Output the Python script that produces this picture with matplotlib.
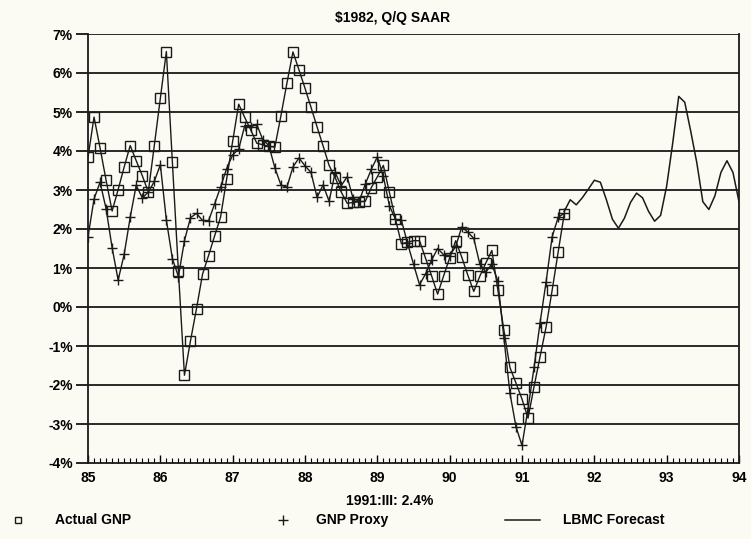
import numpy as np
import matplotlib
matplotlib.use("Agg")
import matplotlib.pyplot as plt
from matplotlib.lines import Line2D
from matplotlib.ticker import MultipleLocator, FuncFormatter

# monthly values, first point = Jan 1985
actualGnp = [
    3.84, 4.87, 4.08, 3.25, 2.46, 3.01, 3.59, 4.14, 3.75, 3.37, 2.95, 4.14,
    5.35, 6.55, 3.71, 0.92, -1.75, -0.87, -0.04, 0.84, 1.32, 1.82, 2.31, 3.28,
    4.25, 5.20, 4.86, 4.54, 4.20, 4.16, 4.12, 4.10, 4.90, 5.74, 6.54, 6.08,
    5.61, 5.12, 4.62, 4.13, 3.63, 3.32, 2.95, 2.66, 2.68, 2.70, 2.71, 3.06,
    3.34, 3.63, 2.94, 2.26, 1.62, 1.66, 1.70, 1.70, 1.25, 0.80, 0.33, 0.80,
    1.26, 1.70, 1.28, 0.82, 0.40, 0.79, 1.13, 1.45, 0.43, -0.60, -1.55, -1.95,
    -2.36, -2.85, -2.04, -1.27, -0.51, 0.43, 1.41, 2.38,
]
gnpProxy = [
    1.80, 2.77, 3.20, 2.52, 1.52, 0.69, 1.35, 2.30, 3.12, 2.80, 2.94, 3.22,
    3.65, 2.23, 1.24, 0.78, 1.70, 2.29, 2.40, 2.22, 2.21, 2.64, 3.08, 3.55,
    3.90, 4.05, 4.65, 4.62, 4.68, 4.29, 4.14, 3.57, 3.13, 3.07, 3.59, 3.82,
    3.62, 3.45, 2.81, 3.13, 2.71, 3.45, 3.11, 3.34, 2.77, 2.72, 3.15, 3.53,
    3.85, 3.35, 2.60, 2.25, 2.22, 1.64, 1.10, 0.57, 0.85, 1.20, 1.50, 1.34,
    1.32, 1.55, 2.05, 1.92, 1.76, 1.10, 0.90, 1.10, 0.66, -0.80, -2.21, -3.07,
    -3.55, -2.60, -1.55, -0.40, 0.65, 1.80, 2.30, 2.40,
]
# forecast starts at the last actual month (index 79)
forecastStart = 79
lbmcForecast = [
    2.45, 2.75, 2.62, 2.80, 3.02, 3.25, 3.20, 2.75, 2.25, 2.02, 2.28, 2.68,
    2.92, 2.80, 2.45, 2.20, 2.35, 3.10, 4.20, 5.40, 5.25, 4.50, 3.70, 2.70,
    2.50, 2.85, 3.45, 3.75, 3.45, 2.70,
]

yearTicks = list(range(85, 95))
yTicks = list(range(-4, 8))
noteText = "1991:III: 2.4%"
titleText = r"\$1982, Q/Q SAAR"

bg = "#fbfbf3"
plt.rcParams['font.family'] = ['Liberation Sans Narrow', 'Liberation Sans', 'DejaVu Sans']
plt.rcParams['font.weight'] = 'bold'

fig = plt.figure(figsize=(7.51, 5.39), dpi=100, facecolor=bg)
ax = fig.add_axes([88 / 751, 1 - 463 / 539, (739 - 88) / 751, (463 - 34) / 539])
ax.set_facecolor(bg)

xActual = 85 + np.arange(len(actualGnp)) / 12
xProxy = 85 + np.arange(len(gnpProxy)) / 12
xFore = 85 + (forecastStart + np.arange(len(lbmcForecast))) / 12

for v in yTicks[1:]:
    ax.axhline(v, color="#2a2a2a", lw=1.4, zorder=1)

ax.plot(xFore, lbmcForecast, color="#1a1a1a", lw=1.1, zorder=3)
ax.plot(xProxy, gnpProxy, color="#1a1a1a", lw=1.0, marker='+', ms=7,
        mew=1.0, zorder=4)
ax.plot(xActual, actualGnp, color="#1a1a1a", lw=1.0, marker='s', ms=6.5,
        mfc='none', mec="#1a1a1a", mew=1.0, zorder=5)

ax.set_xlim(85, 94)
ax.set_ylim(-4, 7)
ax.set_xticks(yearTicks)
ax.xaxis.set_minor_locator(MultipleLocator(1 / 12))
ax.set_yticks(yTicks)
ax.yaxis.set_major_formatter(FuncFormatter(lambda v, p: f"{int(v)}%"))
ax.tick_params(axis='x', which='major', direction='in', length=6, width=1,
               labelsize=10, pad=6)
ax.tick_params(axis='x', which='minor', direction='in', length=3.5, width=0.8)
ax.tick_params(axis='y', which='major', direction='out', length=9, width=1.2,
               labelsize=10, pad=2)
for lab in ax.get_xticklabels() + ax.get_yticklabels():
    lab.set_fontweight('bold')

ax.spines['top'].set_visible(False)
for s in ['left', 'right', 'bottom']:
    ax.spines[s].set_linewidth(1.3)
    ax.spines[s].set_color("#1a1a1a")

fig.text(393 / 751, 1 - 18 / 539, titleText, ha='center', va='center',
         fontsize=10, fontweight='bold')
fig.text(390 / 751, 1 - 501 / 539, noteText, ha='center', va='center',
         fontsize=10, fontweight='bold')

# legend row
legY = 1 - 520 / 539
fig.add_artist(Line2D([18 / 751], [legY], marker='s', ms=5, mfc='none',
                      mec="#1a1a1a", mew=1.0, ls='none'))
fig.text(55 / 751, legY, "Actual GNP", ha='left', va='center', fontsize=10,
         fontweight='bold')
fig.add_artist(Line2D([283 / 751], [legY], marker='+', ms=7, mec="#1a1a1a",
                      mew=1.0, ls='none'))
fig.text(316 / 751, legY, "GNP Proxy", ha='left', va='center', fontsize=10,
         fontweight='bold')
fig.add_artist(Line2D([505 / 751, 540 / 751], [legY, legY], color="#1a1a1a",
                      lw=1.1))
fig.text(563 / 751, legY, "LBMC Forecast", ha='left', va='center', fontsize=10,
         fontweight='bold')

fig.savefig("out.png", dpi=100, facecolor=bg)
